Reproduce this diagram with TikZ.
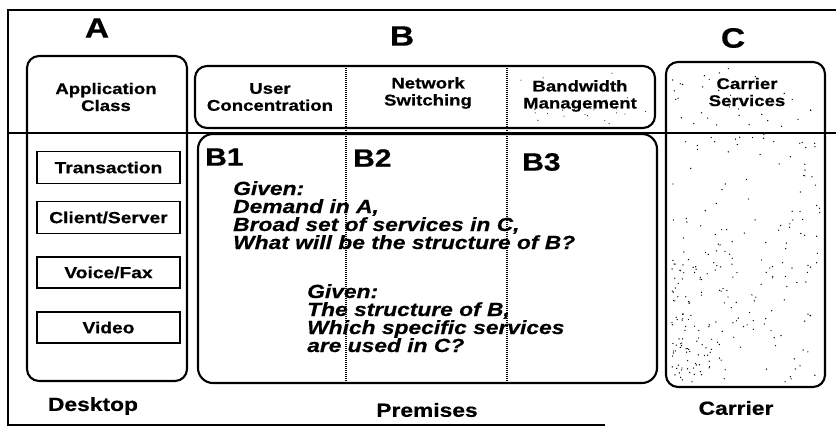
\documentclass[tikz,border=0pt]{standalone}
\usepackage{fontspec}
\setmainfont{Liberation Sans}[FakeStretch=1.2,
  BoldFeatures={FakeBold=0.6}, BoldItalicFeatures={FakeBold=0.5}]
\begin{document}
\begin{tikzpicture}[x=1pt,y=-1pt,
  frame/.style={line width=1.5pt},
  panel/.style={draw, line width=2.1pt, rounded corners=12pt, inner sep=0pt, outer sep=0pt},
  appbox/.style={draw, line width=1.9pt, minimum width=143pt, minimum height=32pt, inner sep=0pt,
    font=\fontsize{16}{16}\selectfont\bfseries},
  head/.style={font=\fontsize{15.5}{17}\selectfont\bfseries, align=center, inner sep=0pt},
  zone/.style={font=\fontsize{28}{28}\selectfont\bfseries, inner sep=0pt},
  cell/.style={font=\fontsize{25}{25}\selectfont\bfseries, anchor=west, inner sep=0pt},
  ital/.style={font=\fontsize{19}{19}\selectfont\bfseries\itshape, anchor=base west, inner sep=0pt},
  foot/.style={font=\fontsize{19}{19}\selectfont\bfseries, inner sep=0pt},
  divider/.style={line width=1.2pt, dash pattern=on 1pt off 1pt},
  speck/.style={fill=black}]
\useasboundingbox (0,0) rectangle (836,431);

% outer frame and the horizontal rule
\coordinate (ftr) at (836,10);
\coordinate (ftl) at (8,10);
\coordinate (fbl) at (8,425);
\coordinate (fbr) at (605,425);
\coordinate (ml) at (8,133);
\coordinate (mr) at (836,133);
\draw[frame] (ftr) -- (ftl) -- (fbl) -- (fbr);
\draw[line width=1.2pt] (ml) -- (mr);

% zone letters
\node[zone] (la) at (97,28) {A};
\node[zone] (lb) at (402,36) {B};
\node[zone] (lc) at (733,38) {C};

% panels
\node[panel, minimum width=160pt, minimum height=325pt] (abox) at (107,218.5) {};
\node[panel, minimum width=460pt, minimum height=62pt] (bhead) at (425,97) {};
\node[panel, fill=white, minimum width=459pt, minimum height=249pt, rounded corners=15pt] (bmain) at (427.5,258.5) {};
\node[panel, minimum width=159pt, minimum height=325pt] (cbox) at (745.5,224.5) {};

% dotted dividers across B
\coordinate (d1t) at (346,66);
\coordinate (d1b) at (346,383);
\coordinate (d2t) at (507,66);
\coordinate (d2b) at (507,383);
\draw[divider] (d1t) -- (d1b);
\draw[divider] (d2t) -- (d2b);

% header texts
\node[head] (hA) at (106,97) {Application\\Class};
\node[head] (hB1) at (270,97) {User\\Concentration};
\node[head] (hB2) at (428,93) {Network\\Switching};
\node[head] (hB3) at (580,96) {Bandwidth\\Management};
\node[head] (hC) at (747,92) {Carrier\\Services};

% application classes
\node[appbox] (tr) at (108.5,167.5) {Transaction};
\node[appbox] (cs) at (108.5,217.5) {Client/Server};
\node[appbox, minimum height=31pt] (vf) at (108.5,272.5) {Voice/Fax};
\node[appbox, minimum height=31pt] (vd) at (108.5,327.5) {Video};

% B cells
\node[cell] (b1) at (205,157) {B1};
\node[cell] (b2) at (353,158) {B2};
\node[cell] (b3) at (522,162) {B3};

% questions
\node[ital] (q1) at (233,195) {Given:};
\node[ital] (q2) at (233,213) {Demand in A,};
\node[ital] (q3) at (233,231) {Broad set of services in C,};
\node[ital] (q4) at (233,249) {What will be the structure of B?};
\node[ital] (r1) at (307,298) {Given:};
\node[ital] (r2) at (307,316) {The structure of B,};
\node[ital] (r3) at (307,334) {Which specific services};
\node[ital] (r4) at (307,352) {are used in C?};

% footers
\node[foot] (fd) at (93,406) {Desktop};
\node[foot] (fp) at (427,410) {Premises};
\node[foot] (fc) at (736,408) {Carrier};

% stipple inside the carrier panel
\pgfmathsetseed{4711}
\foreach \i in {1,...,170}{
  \pgfmathsetmacro{\px}{672+rnd*148}
  \pgfmathsetmacro{\py}{68+rnd*314}
  \fill[speck] (\px,\py) circle (0.7pt);
}
\foreach \i in {1,...,110}{
  \pgfmathsetmacro{\px}{672+rnd*rnd*90}
  \pgfmathsetmacro{\py}{250+rnd*132}
  \fill[speck] (\px,\py) circle (0.7pt);
}
\foreach \i in {1,...,28}{
  \pgfmathsetmacro{\px}{512+rnd*138}
  \pgfmathsetmacro{\py}{70+rnd*54}
  \fill[speck] (\px,\py) circle (0.55pt);
}
\end{tikzpicture}
\end{document}
